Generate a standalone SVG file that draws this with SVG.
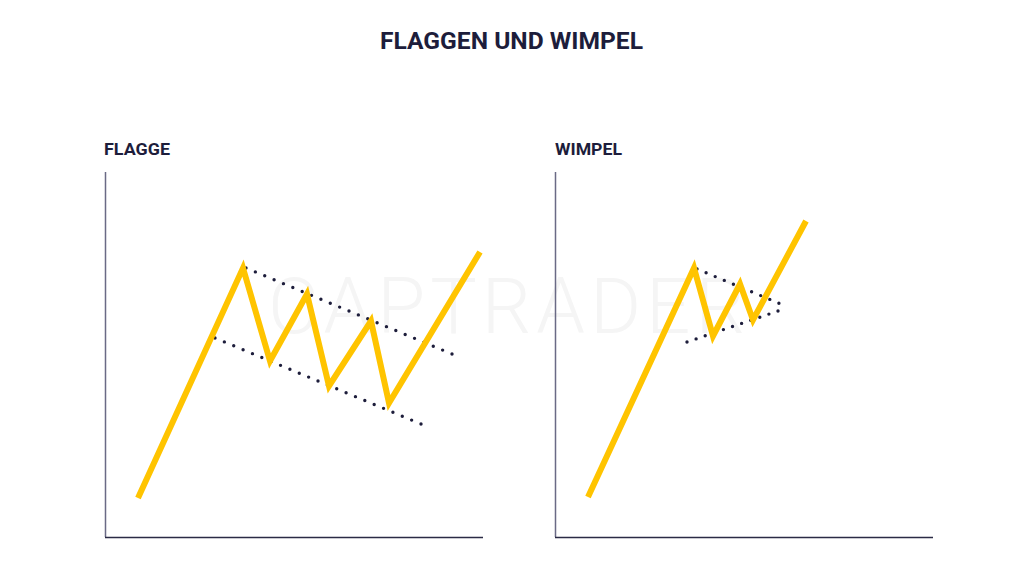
<svg xmlns="http://www.w3.org/2000/svg" width="1024" height="578" viewBox="0 0 1024 578">
<style>
.title{font-family:"Roboto","Liberation Sans",sans-serif;font-weight:700;fill:#1d1d3b}
.wm{font-family:"Roboto","Liberation Sans",sans-serif;font-weight:300;fill:#f5f5f5}
.price{fill:none;stroke:#ffc400;stroke-width:6;stroke-linejoin:miter;stroke-linecap:butt}
.dots{fill:none;stroke:#1d1d3b;stroke-width:3.4;stroke-linecap:round;stroke-dasharray:0 1}
.axv{stroke:#6a6a85;stroke-width:1.5}
.axh{stroke:#2b2b45;stroke-width:1.5}
</style>
<rect width="1024" height="578" fill="#ffffff"/>
<text class="wm" x="268" y="333" font-size="78" textLength="477" lengthAdjust="spacing">CAPTRADER</text>
<text id="title" class="title" x="380" y="49" font-size="24" textLength="263" lengthAdjust="spacingAndGlyphs">FLAGGEN UND WIMPEL</text>
<g id="flagge">
<text class="title" x="104" y="155" font-size="16.5" textLength="66" lengthAdjust="spacingAndGlyphs">FLAGGE</text>
<line class="axv" x1="105.5" y1="172" x2="105.5" y2="537"/>
<line class="axh" x1="105" y1="537.5" x2="483" y2="537.5"/>
</g>
<g id="wimpel">
<text class="title" x="555" y="155" font-size="16.5" textLength="67" lengthAdjust="spacingAndGlyphs">WIMPEL</text>
<line class="axv" x1="555.5" y1="172" x2="555.5" y2="537"/>
<line class="axh" x1="555" y1="537.5" x2="933" y2="537.5"/>
</g>
<g id="connectors">
<line class="dots" x1="246" y1="268" x2="452" y2="354" pathLength="22"/>
<line class="dots" x1="215" y1="338" x2="421" y2="424" pathLength="22"/>
<polyline class="price" points="138,498 243,268 270,361 307,294 329,386 371,321 389,403 480,252"/>
<line class="dots" x1="697" y1="269" x2="788" y2="307" pathLength="10"/>
<line class="dots" x1="687" y1="342" x2="778" y2="311" pathLength="10"/>
<polyline class="price" points="588,497 694,268 713,336 740,284 753,320 806,221"/>
</g>
</svg>
